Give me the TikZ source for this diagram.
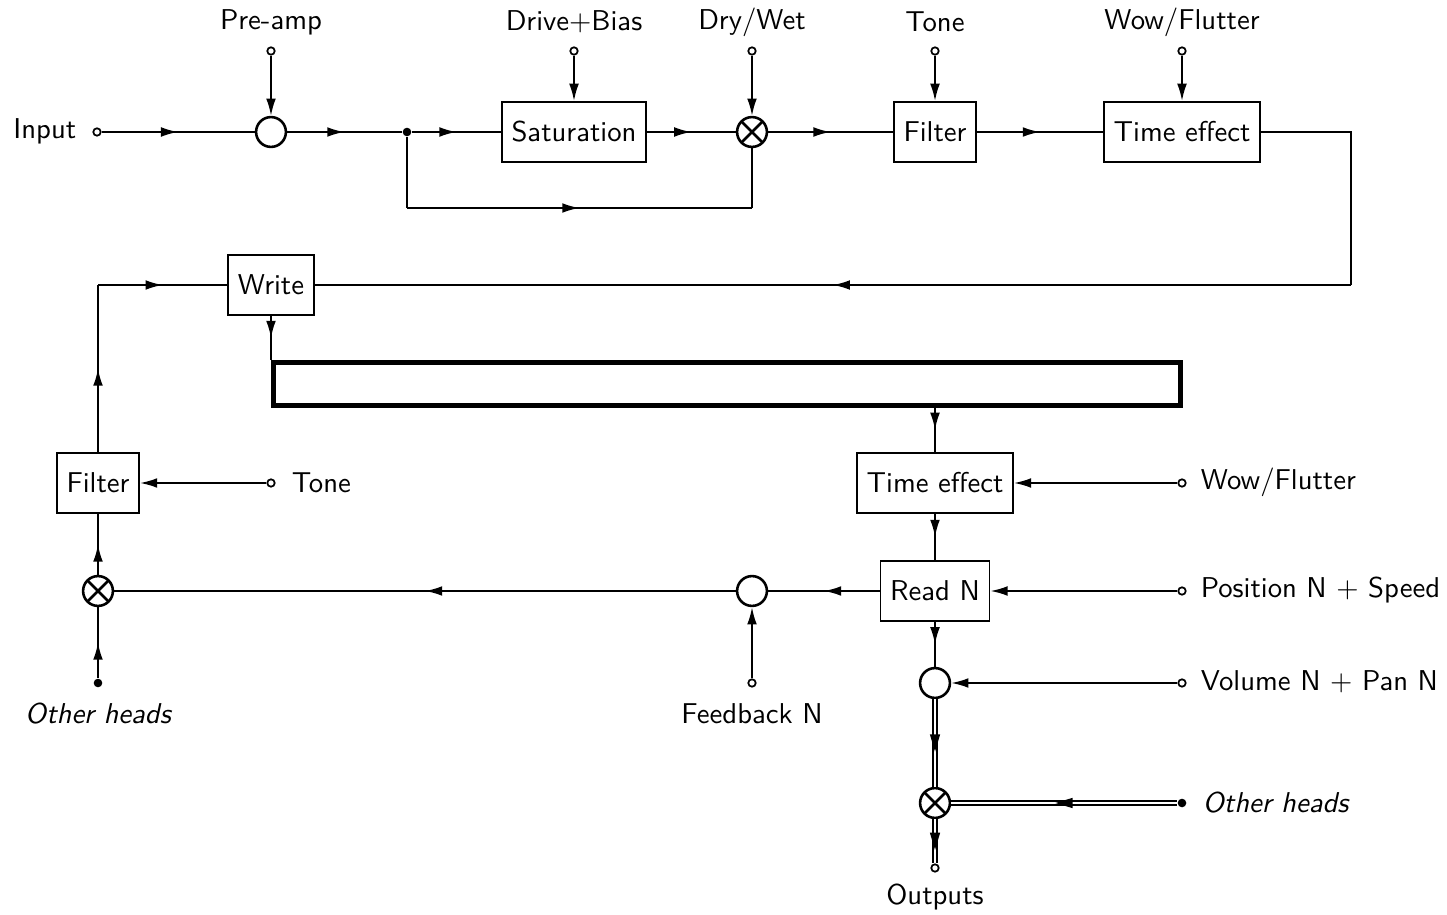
\documentclass[tikz,border=0pt]{standalone}
\usetikzlibrary{arrows.meta,decorations.markings}
\begin{document}
\begin{tikzpicture}[x=0.3485pt,y=-0.3485pt, font=\sffamily, line width=0.65pt,
 >={Latex[length=6pt,width=3.4pt]},
 blk/.style={draw,minimum height=21pt,inner sep=3.33pt},
 sumc/.style={circle,draw,line width=0.9pt,minimum size=10.4pt,inner sep=0pt},
 mulc/.style={sumc,path picture={\draw[line width=0.9pt] (path picture bounding box.north west) -- (path picture bounding box.south east) (path picture bounding box.north east) -- (path picture bounding box.south west);}},
 port/.style={circle,draw,fill=white,minimum size=2.6pt,inner sep=0pt,line width=0.6pt},
 dotn/.style={circle,fill,minimum size=3pt,inner sep=0pt},
 midarr/.style={postaction={decorate},decoration={markings,mark=at position 0.5 with {\arrow{Latex[length=6pt,width=3.4pt]}}}},
 dline/.style={double,double distance=0.8pt,line width=0.5pt},
 dmid/.style={postaction={decorate},decoration={markings,mark=at position 0.5 with {\fill[draw=none] (3pt,0pt) -- (-3pt,1.8pt) -- (-3pt,-1.8pt) -- cycle;}}},
 lbl/.style={inner sep=1pt},
]
\useasboundingbox (0,0) rectangle (1447,915);
% top row
\node[port] (inp) at (97,132) {};
\node[lbl,anchor=east] (inl) at (80,131) {Input};
\node[sumc] (pre) at (271,132) {};
\node[port] (prep) at (271,51) {};
\node[lbl] (prel) at (271,22) {Pre-amp};
\node[dotn] (j) at (407,132) {};
\node[blk] (sat) at (574,132) {Saturation};
\node[port] (dbp) at (574,51) {};
\node[lbl] (dbl) at (574,22) {Drive+Bias};
\node[mulc] (dw) at (752,132) {};
\node[port] (dwp) at (752,51) {};
\node[lbl] (dwl) at (752,22) {Dry/Wet};
\node[blk] (f1) at (935,132) {Filter};
\node[port] (tp) at (935,51) {};
\node[lbl] (tl) at (935,22) {Tone};
\node[blk] (te1) at (1182,132) {Time effect};
\node[port] (wfp) at (1182,51) {};
\node[lbl] (wfl) at (1182,22) {Wow/Flutter};
\coordinate (b1) at (407,208);
\coordinate (b2) at (752,208);
\coordinate (c1) at (1351,132);
\coordinate (c2) at (1351,285);
% write and tape
\node[blk] (wr) at (271,285) {Write};
\node[draw,line width=1.7pt,minimum width=316pt,minimum height=15pt,inner sep=0pt] (tape) at (727,384) {};
\coordinate (tw) at (wr.south |- tape.north);
\coordinate (c3) at (98,285);
% read side
\node[blk] (te2) at (935,483) {Time effect};
\coordinate (tr) at (tape.south -| te2.north);
\node[port] (wf2p) at (1182,483) {};
\node[lbl,anchor=west] (wf2l) at (1197,482) {Wow/Flutter};
\node[blk] (rd) at (935,591) {Read N};
\node[port] (posp) at (1182,591) {};
\node[lbl,anchor=west] (posl) at (1197,590) {Position N + Speed};
\node[sumc] (vol) at (935,683) {};
\node[port] (volp) at (1182,683) {};
\node[lbl,anchor=west] (voll) at (1197,682) {Volume N + Pan N};
\node[mulc] (om) at (935,803) {};
\node[dotn] (ohr) at (1182,803) {};
\node[lbl,anchor=west] (ohrl) at (1199,803) {\itshape Other heads};
\node[port] (out) at (935,868) {};
\node[lbl] (outl) at (935,897) {Outputs};
\node[sumc] (fb) at (752,591) {};
\node[port] (fbp) at (752,683) {};
\node[lbl] (fbl) at (752,714) {Feedback N};
\node[mulc] (lm) at (98,591) {};
\node[dotn] (ohl) at (98,683) {};
\node[lbl] (ohll) at (98,714) {\itshape Other heads};
\node[blk] (f2) at (98,483) {Filter};
\node[port] (tp2) at (271,483) {};
\node[lbl,anchor=west] (tl2) at (288,483) {Tone};
% connectors top
\draw[midarr] (inp) -- (pre);
\draw[->] (prep) -- (pre);
\draw[midarr] (pre) -- (j);
\draw[midarr] (j) -- (sat);
\draw[->] (dbp) -- (sat);
\draw[midarr] (sat) -- (dw);
\draw[->] (dwp) -- (dw);
\draw (j) -- (b1);
\draw[midarr] (b1) -- (b2);
\draw (b2) -- (dw);
\draw[midarr] (dw) -- (f1);
\draw[->] (tp) -- (f1);
\draw[midarr] (f1) -- (te1);
\draw[->] (wfp) -- (te1);
\draw (te1) -- (c1) -- (c2);
\draw[midarr] (c2) -- (wr);
\draw[midarr] (wr) -- (tw);
% read side connectors
\draw[midarr] (tr) -- (te2);
\draw[->] (wf2p) -- (te2);
\draw[midarr] (te2) -- (rd);
\draw[->] (posp) -- (rd);
\draw[midarr] (rd) -- (fb);
\draw[->] (fbp) -- (fb);
\draw[midarr] (fb) -- (lm);
\draw[midarr] (ohl) -- (lm);
\draw[midarr] (lm) -- (f2);
\draw[->] (tp2) -- (f2);
\draw[midarr] (f2) -- (c3);
\draw[midarr] (c3) -- (wr);
\draw[midarr] (rd) -- (vol);
\draw[->] (volp) -- (vol);
\draw[dline] (vol) -- (om);
\path[dmid] (vol) -- (om);
\draw[dline] (ohr) -- (om);
\path[dmid] (ohr) -- (om);
\draw[dline] (om) -- (out);
\path[dmid] (om) -- (out);
\end{tikzpicture}
\end{document}
